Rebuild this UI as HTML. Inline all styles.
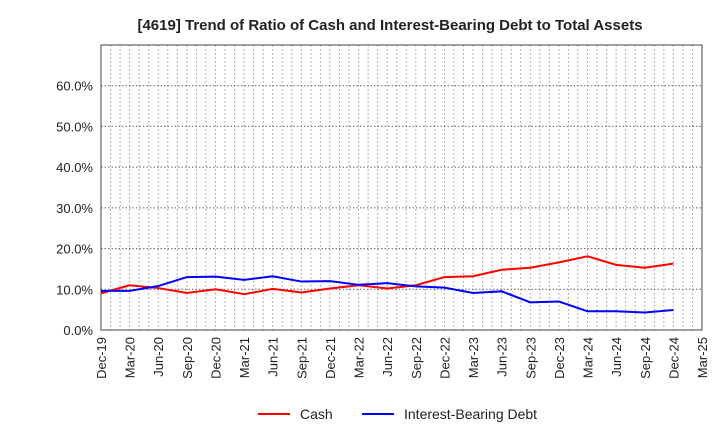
<!DOCTYPE html>
<html><head><meta charset="utf-8"><style>
body{margin:0;background:#fff;font-family:"Liberation Sans",Arial,sans-serif}
svg text{font-family:"Liberation Sans",Arial,sans-serif}
</style></head><body>
<svg id="c" width="720" height="440" xmlns="http://www.w3.org/2000/svg">
<text x="390" y="30" text-anchor="middle" font-size="15" font-weight="bold" fill="#222">[4619]  Trend of Ratio of Cash and Interest-Bearing Debt to Total Assets</text>
<g id="grid"></g>
<g id="axes"></g>
<g id="series"></g>
<g>
<line x1="258" y1="414" x2="290" y2="414" stroke="#f00" stroke-width="2"/>
<text x="300" y="419" font-size="14" fill="#222">Cash</text>
<line x1="362" y1="414" x2="394" y2="414" stroke="#00f" stroke-width="2"/>
<text x="404" y="419" font-size="14" fill="#222">Interest-Bearing Debt</text>
</g>
</svg>
<script>
const categories=["Dec-19","Mar-20","Jun-20","Sep-20","Dec-20","Mar-21","Jun-21","Sep-21","Dec-21","Mar-22","Jun-22","Sep-22","Dec-22","Mar-23","Jun-23","Sep-23","Dec-23","Mar-24","Jun-24","Sep-24","Dec-24","Mar-25"];
const cashValues=[9.0,11.0,10.3,9.1,10.0,8.8,10.1,9.2,10.2,11.0,10.2,11.0,13.0,13.2,14.8,15.3,16.6,18.1,16.0,15.3,16.3];
const debtValues=[9.6,9.6,10.8,13.0,13.1,12.3,13.2,11.9,12.0,11.1,11.5,10.7,10.4,9.1,9.5,6.8,7.0,4.6,4.6,4.3,4.9];
const yTicks=[0,10,20,30,40,50,60];
const NS="http://www.w3.org/2000/svg";
const L=101,R=702,T=45,B=330,yMax=70;
const x=i=>L+i*(R-L)/(categories.length-1);
const y=v=>B-v/yMax*(B-T);
function mk(tag,attrs,parent){const e=document.createElementNS(NS,tag);for(const k in attrs)e.setAttribute(k,attrs[k]);parent.appendChild(e);return e;}
const grid=document.getElementById('grid'),axes=document.getElementById('axes'),ser=document.getElementById('series');
const nMonths=(categories.length-1)*3;
for(let m=1;m<nMonths;m++){const xx=L+m*(R-L)/nMonths;const g=mk('line',{x1:xx,x2:xx,y1:T,y2:B,stroke:'#999','stroke-dasharray':'1.5,2.5','stroke-width':1},grid);

}
yTicks.concat([70]).forEach(v=>{if(v===0)return;const g=mk('line',{x1:L,x2:R,y1:y(v),y2:y(v),stroke:'#666','stroke-dasharray':'1.5,2','stroke-width':1},grid);

});
const frame=mk('rect',{x:L,y:T,width:R-L,height:B-T,fill:'none',stroke:'#444','stroke-width':1},axes);


yTicks.forEach(v=>{const t=mk('text',{x:L-8,y:y(v)+5,'text-anchor':'end','font-size':'13',fill:'#222'},axes);t.textContent=v.toFixed(1)+'%';

});
categories.forEach((c,i)=>{const t=mk('text',{x:0,y:0,'text-anchor':'end','font-size':'13',fill:'#222',transform:`translate(${x(i)+5},${B+7}) rotate(-90)`},axes);t.textContent=c;

});
function line(vals,col,name){const p=mk('polyline',{points:vals.map((v,i)=>x(i)+','+y(v)).join(' '),fill:'none',stroke:col,'stroke-width':2},ser);

}
line(cashValues,'#f00','cash-line');
line(debtValues,'#00f','debt-line');
</script>
</body></html>
